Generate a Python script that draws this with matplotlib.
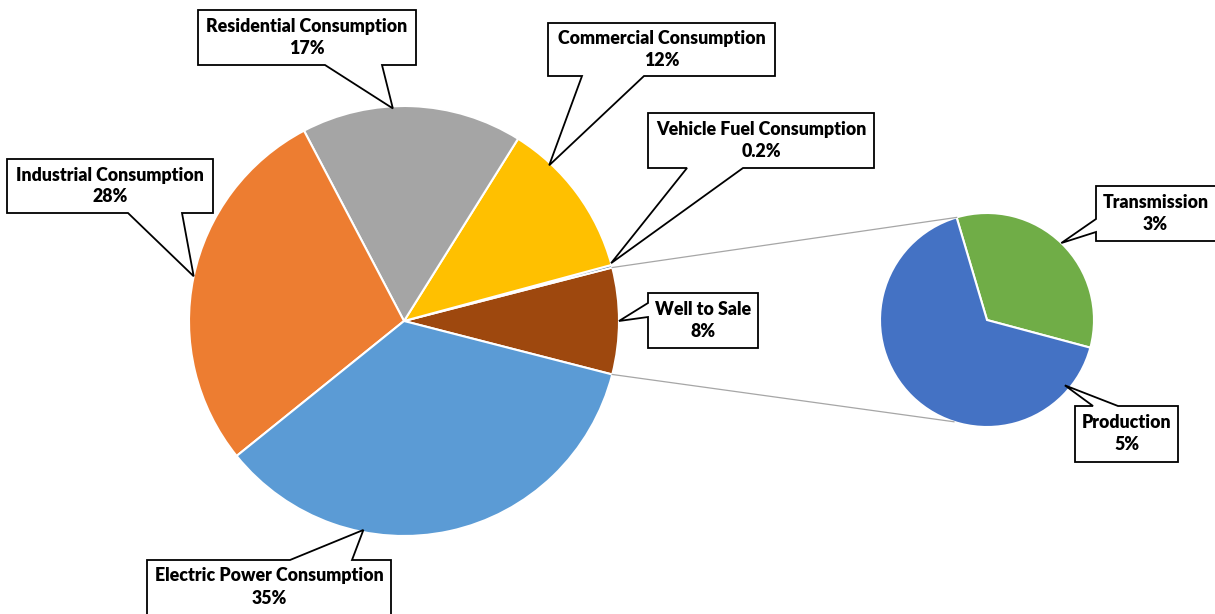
import numpy as np
import matplotlib.pyplot as plt
from matplotlib.patches import Polygon

W, H = 1215, 614

# main pie, counter-clockwise starting at the right-hand side
main_labels = ["Well to Sale", "Vehicle Fuel Consumption", "Commercial Consumption",
               "Residential Consumption", "Industrial Consumption",
               "Electric Power Consumption"]
main_values = [8.0, 0.2, 11.9, 16.6, 28.1, 35.2]
main_colors = ["#9E480E", "#255E91", "#FFC000", "#A5A5A5", "#ED7D31", "#5B9BD5"]

# breakdown of "Well to Sale"
sub_labels = ["Transmission", "Production"]
sub_values = [2.7, 5.3]
sub_colors = ["#70AD47", "#4472C4"]

# pie geometry in pixels (y measured downwards)
MAIN_C, MAIN_R = (404, 321), 215
SUB_C, SUB_R = (987, 320), 107

# callouts: box (x0, y0, x1, y1), side with the pointer, pointer base, anchor angle, radius frac
callouts = {
    "Residential Consumption":    ((198, 10, 416, 65), "bottom", (325, 382), 93, 0.99),
    "Commercial Consumption":     ((548, 23, 775, 76), "bottom", (582, 644), 47, 0.99),
    "Vehicle Fuel Consumption":   ((648, 113, 874, 168), "bottom", (687, 743), 15.6, 1.0),
    "Industrial Consumption":     ((7, 159, 213, 213), "bottom", (128, 182), 168, 1.0),
    "Electric Power Consumption": ((147, 560, 391, 620), "top", (290, 352), 259, 0.99),
    "Well to Sale":               ((648, 293, 758, 348), "left", (303, 317), 0, 1.0),
    "Transmission":               ((1096, 186, 1220, 241), "left", (219, 232), 46, 1.0),
    "Production":                 ((1075, 406, 1178, 462), "top", (1093, 1118), -40, 0.95),
}

FONT = dict(fontsize=12.8, fontweight="heavy", family="Lato", color="black")


def fy(y):
    return H - y


def callout_poly(box, side, base, tip):
    x0, y0, x1, y1 = box
    a, b = base
    if side == "top":
        pts = [(x0, y0), (a, y0), tip, (b, y0), (x1, y0), (x1, y1), (x0, y1)]
    elif side == "bottom":
        pts = [(x0, y0), (x1, y0), (x1, y1), (b, y1), tip, (a, y1), (x0, y1)]
    else:  # left
        pts = [(x0, y0), (x1, y0), (x1, y1), (x0, y1), (x0, b), tip, (x0, a)]
    return [(x, fy(y)) for x, y in pts]


fig = plt.figure(figsize=(W / 100, H / 100), dpi=100)
ax = fig.add_axes([0, 0, 1, 1])

wedge_kw = dict(edgecolor="white", linewidth=1.5)
main_w, _ = ax.pie(main_values, colors=main_colors, startangle=-14.4,
                   center=(MAIN_C[0], fy(MAIN_C[1])), radius=MAIN_R,
                   wedgeprops=wedge_kw, frame=True)
sub_start = -15.0
sub_w, _ = ax.pie(sub_values, colors=sub_colors, startangle=sub_start,
                  center=(SUB_C[0], fy(SUB_C[1])), radius=SUB_R,
                  wedgeprops=wedge_kw, frame=True)


def on_circle(c, r, ang):
    t = np.deg2rad(ang)
    return c[0] + r * np.cos(t), fy(c[1]) + r * np.sin(t)


# connector lines from the "Well to Sale" slice to the breakdown pie
ws = main_w[0]
for a_main, a_sub in [(ws.theta2, sub_w[0].theta2), (ws.theta1, 252)]:
    p0 = on_circle(MAIN_C, MAIN_R, a_main)
    p1 = on_circle(SUB_C, SUB_R, a_sub)
    ax.plot([p0[0], p1[0]], [p0[1], p1[1]], color="#A6A6A6", lw=0.9, zorder=1)

total = sum(main_values)
entries = list(zip(main_labels, main_values, ["main"] * len(main_values))) + \
    list(zip(sub_labels, sub_values, ["sub"] * len(sub_values)))

for name, val, which in entries:
    box, side, base, ang, frac = callouts[name]
    c, r = (MAIN_C, MAIN_R) if which == "main" else (SUB_C, SUB_R)
    tx, ty = on_circle(c, r * frac, ang)
    tip = (tx, H - ty)
    poly = Polygon(callout_poly(box, side, base, tip), closed=True,
                   facecolor="white", edgecolor="black", lw=1.3, zorder=5)
    ax.add_patch(poly)
    pct = val / total * 100
    pct_txt = f"{pct:.1f}%" if pct < 1 else f"{pct:.0f}%"
    x0, y0, x1, y1 = box
    cx = (x0 + min(x1, W)) / 2
    cy = (y0 + y1) / 2 if y1 <= H else y0 + 27
    ax.text(cx, fy(cy - 11), name, ha="center", va="center", zorder=6, **FONT)
    ax.text(cx, fy(cy + 11), pct_txt, ha="center", va="center", zorder=6, **FONT)

ax.set_xlim(0, W)
ax.set_ylim(0, H)
ax.set_aspect("equal")
ax.axis("off")

fig.savefig("out.png", dpi=100, facecolor="white")
